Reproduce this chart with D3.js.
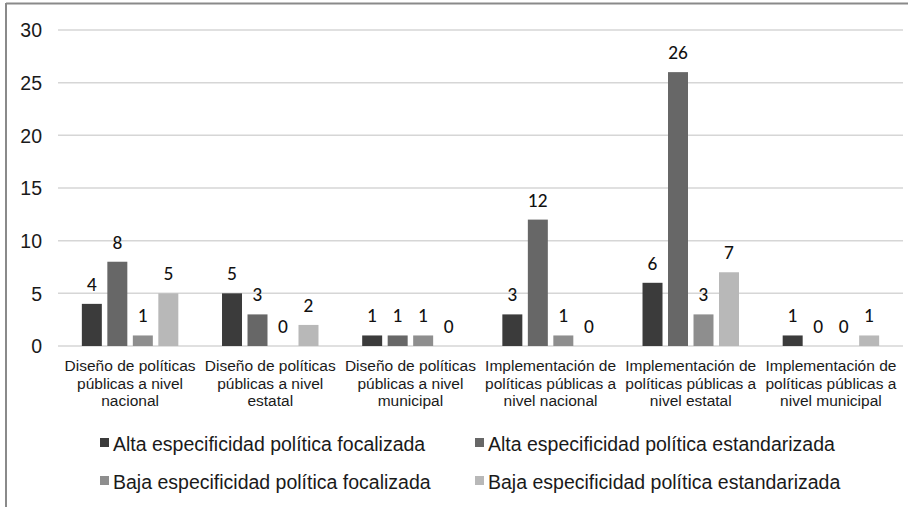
<!DOCTYPE html>
<html>
<head>
<meta charset="utf-8">
<script src="https://cdn.jsdelivr.net/npm/d3@7/dist/d3.min.js"></script>
<style>
html,body{margin:0;padding:0;background:#fff;}
svg{display:block;}
</style>
</head>
<body>
<svg id="chart" width="908" height="507"></svg>
<script>
const categories = [
  ["Diseño de políticas", "públicas a nivel", "nacional"],
  ["Diseño de políticas", "públicas a nivel", "estatal"],
  ["Diseño de políticas", "públicas a nivel", "municipal"],
  ["Implementación de", "políticas públicas a", "nivel nacional"],
  ["Implementación de", "políticas públicas a", "nivel estatal"],
  ["Implementación de", "políticas públicas a", "nivel municipal"]
];
const seriesNames = [
  "Alta especificidad política focalizada",
  "Alta especificidad política estandarizada",
  "Baja especificidad política focalizada",
  "Baja especificidad política estandarizada"
];
const altaFocalizada = [4, 5, 1, 3, 6, 1];
const altaEstandarizada = [8, 3, 1, 12, 26, 0];
const bajaFocalizada = [1, 0, 1, 1, 3, 0];
const bajaEstandarizada = [5, 2, 0, 0, 7, 1];
const yTicks = [0, 5, 10, 15, 20, 25, 30];

const seriesValues = [altaFocalizada, altaEstandarizada, bajaFocalizada, bajaEstandarizada];
const colors = ["#3b3b3b", "#676767", "#8e8e8e", "#b8b8b8"];

const svg = d3.select("#chart");

// frame
svg.append("line").attr("x1", 6).attr("x2", 908).attr("y1", 3.5).attr("y2", 3.5)
  .attr("stroke", "#8a8a8a").attr("stroke-width", 2);
svg.append("line").attr("x1", 6).attr("x2", 6).attr("y1", 3).attr("y2", 507)
  .attr("stroke", "#8a8a8a").attr("stroke-width", 2);

const catIdx = categories.map((d, i) => i);
const x0 = d3.scaleBand().domain(catIdx).range([60, 901]).paddingInner(0).paddingOuter(0);
const x1 = d3.scaleBand().domain(d3.range(seriesNames.length)).range([0, x0.bandwidth()])
  .paddingInner(0.216).paddingOuter(0.857);
const y = d3.scaleLinear().domain([0, 30]).range([346, 30]);

// gridlines
svg.append("g").selectAll("line").data(yTicks).join("line")
  .attr("x1", 58).attr("x2", 903)
  .attr("y1", d => y(d)).attr("y2", d => y(d))
  .attr("stroke", "#d6d6d6").attr("stroke-width", 1.5);

// y axis labels
const yAxis = d3.axisLeft(y).tickValues(yTicks).tickSize(0).tickPadding(0);
const gy = svg.append("g").attr("transform", "translate(42,0)").call(yAxis);
gy.select(".domain").remove();
gy.selectAll("text").attr("font-family", "Liberation Sans, Arial, sans-serif")
  .attr("font-size", 19.5).attr("fill", "#1a1a1a").attr("dy", "0.35em");

// bars
const groups = svg.append("g").selectAll("g").data(catIdx).join("g")
  .attr("transform", d => `translate(${x0(d)},0)`);
groups.selectAll("rect").data(ci => seriesValues.map((vals, si) => ({si, v: vals[ci]})))
  .join("rect")
  .attr("x", d => x1(d.si)).attr("width", x1.bandwidth())
  .attr("y", d => y(d.v)).attr("height", d => y(0) - y(d.v))
  .attr("fill", d => colors[d.si]);
groups.selectAll("text").data(ci => seriesValues.map((vals, si) => ({si, v: vals[ci]})))
  .join("text")
  .attr("x", d => x1(d.si) + x1.bandwidth() / 2)
  .attr("y", d => y(d.v) - 13)
  .attr("text-anchor", "middle")
  .attr("font-family", "Lato, 'Open Sans', sans-serif")
  .attr("font-size", 17).attr("font-weight", 500).attr("fill", "#111")
  .text(d => d.v);

// category labels
const gx = svg.append("g");
categories.forEach((lines, ci) => {
  const t = gx.append("text")
    .attr("x", x0(ci) + x0.bandwidth() / 2)
    .attr("y", 371)
    .attr("text-anchor", "middle")
    .attr("font-family", "Liberation Sans, Arial, sans-serif")
    .attr("font-size", 15.5).attr("fill", "#1a1a1a");
  lines.forEach((ln, li) => {
    t.append("tspan").attr("x", x0(ci) + x0.bandwidth() / 2)
      .attr("dy", li === 0 ? 0 : 17.5).text(ln);
  });
});

// legend
const legendPos = [[100, 444], [475, 444], [100, 482], [475, 482]];
const lg = svg.append("g").selectAll("g").data(seriesNames).join("g")
  .attr("transform", (d, i) => `translate(${legendPos[i][0]},${legendPos[i][1]})`);
lg.append("rect").attr("x", 0).attr("y", -6).attr("width", 9).attr("height", 9)
  .attr("fill", (d, i) => colors[i]);
lg.append("text").attr("x", 13).attr("y", 0).attr("dy", "0.35em")
  .attr("font-family", "Liberation Sans, Arial, sans-serif")
  .attr("font-size", 19.5).attr("fill", "#1a1a1a")
  .text(d => d);
</script>
</body>
</html>
